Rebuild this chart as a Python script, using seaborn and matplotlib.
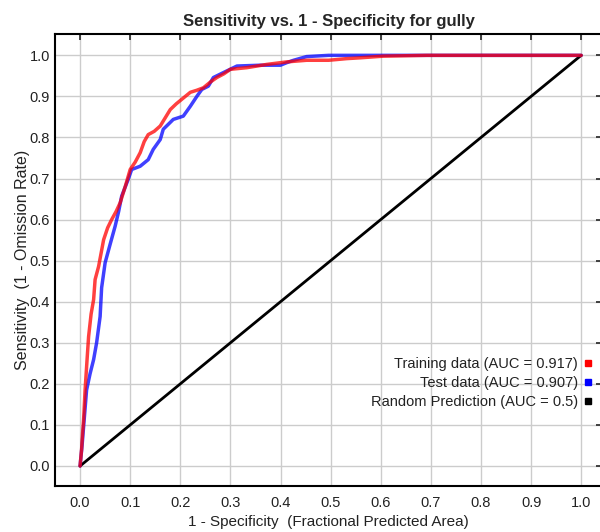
import numpy as np
import pandas as pd
import matplotlib
matplotlib.use("Agg")
import matplotlib.pyplot as plt
from matplotlib.lines import Line2D
import seaborn as sns

# ROC points
train_x = [0, 0.003, 0.005, 0.007, 0.010, 0.014, 0.017, 0.022, 0.027, 0.030,
           0.037, 0.047, 0.055, 0.063, 0.072, 0.080, 0.090, 0.100, 0.110, 0.120,
           0.128, 0.136, 0.148, 0.160, 0.170, 0.180, 0.192, 0.203, 0.212, 0.220,
           0.233, 0.246, 0.260, 0.273, 0.287, 0.300, 0.333, 0.373, 0.412, 0.452,
           0.496, 0.532, 0.559, 0.605, 0.692, 1.0]
train_y = [0, 0.04, 0.08, 0.112, 0.185, 0.26, 0.315, 0.37, 0.405, 0.454,
           0.486, 0.551, 0.58, 0.6, 0.62, 0.641, 0.68, 0.722, 0.74, 0.763,
           0.79, 0.807, 0.815, 0.828, 0.848, 0.868, 0.882, 0.893, 0.902, 0.91,
           0.915, 0.921, 0.935, 0.946, 0.955, 0.966, 0.97, 0.978, 0.984, 0.988,
           0.988, 0.992, 0.994, 0.998, 1.0, 1.0]

test_x = [0, 0.004, 0.008, 0.013, 0.020, 0.027, 0.033, 0.040, 0.043, 0.050,
          0.060, 0.070, 0.077, 0.083, 0.096, 0.103, 0.120, 0.136, 0.146, 0.160,
          0.166, 0.186, 0.206, 0.220, 0.233, 0.243, 0.256, 0.266, 0.286, 0.313,
          0.360, 0.400, 0.412, 0.426, 0.452, 0.496, 1.0]
test_y = [0, 0.05, 0.11, 0.185, 0.225, 0.259, 0.30, 0.364, 0.434, 0.495,
          0.54, 0.584, 0.62, 0.657, 0.698, 0.722, 0.73, 0.746, 0.771, 0.795,
          0.82, 0.844, 0.852, 0.876, 0.90, 0.917, 0.925, 0.946, 0.958, 0.974,
          0.976, 0.976, 0.982, 0.988, 0.997, 1.0, 1.0]

random_x = [0, 1]
random_y = [0, 1]

labels = ["Training data (AUC = 0.917)", "Test data (AUC = 0.907)",
          "Random Prediction (AUC = 0.5)"]
colors = ["#ff0000", "#0000ff", "#000000"]

ticks = np.round(np.arange(0, 1.01, 0.1), 1)
tick_labels = [f"{t:.1f}" for t in ticks]

sns.set_style("white")
plt.rcParams["font.family"] = ["Liberation Sans", "DejaVu Sans"]

fig = plt.figure(figsize=(6, 5.32), dpi=100)
# axes runs a little past the right edge, as in the reference
ax = fig.add_axes([0.0917, 0.0865, 0.912, 0.8496])

test_df = pd.DataFrame({"x": test_x, "y": test_y})
train_df = pd.DataFrame({"x": train_x, "y": train_y})
rand_df = pd.DataFrame({"x": random_x, "y": random_y})

sns.lineplot(data=rand_df, x="x", y="y", ax=ax, color=colors[2], lw=2,
             sort=False, estimator=None)
sns.lineplot(data=test_df, x="x", y="y", ax=ax, color=colors[1], lw=2.5,
             alpha=0.75, sort=False, estimator=None)
sns.lineplot(data=train_df, x="x", y="y", ax=ax, color=colors[0], lw=2.5,
             alpha=0.75, sort=False, estimator=None)

ax.set_xlim(-0.05, 1.042)
ax.set_ylim(-0.0487, 1.052)
ax.set_xticks(ticks)
ax.set_yticks(ticks)
ax.set_xticklabels(tick_labels)
ax.set_yticklabels(tick_labels)
ax.grid(True, color="#cccccc", lw=1)
ax.set_axisbelow(True)
for s in ax.spines.values():
    s.set_color("black")
    s.set_linewidth(1.5)
ax.tick_params(axis="both", direction="in", length=4.5, width=1.3,
               color="#333333", labelcolor="#222222", labelsize=10.5,
               top=True, right=True)
ax.tick_params(axis="x", pad=7)
ax.tick_params(axis="y", pad=3.5)

ax.set_title("Sensitivity vs. 1 - Specificity for gully", fontsize=12,
             fontweight="bold", pad=6)
ax.set_xlabel("1 - Specificity  (Fractional Predicted Area)", fontsize=11,
              labelpad=4, color="#222222")
ax.set_ylabel("Sensitivity  (1 - Omission Rate)", fontsize=11.5, labelpad=0,
              color="#222222")

handles = [Line2D([], [], ls="none", marker="s", markersize=5, color=c)
           for c in colors]
ax.legend(handles, labels, loc="center right", bbox_to_anchor=(0.996, 0.228),
          frameon=False, markerfirst=False, fontsize=10.5, handlelength=0.8,
          handletextpad=0.3, labelspacing=0.35, borderaxespad=0,
          labelcolor="#222222")

fig.savefig("out.png", dpi=100)
